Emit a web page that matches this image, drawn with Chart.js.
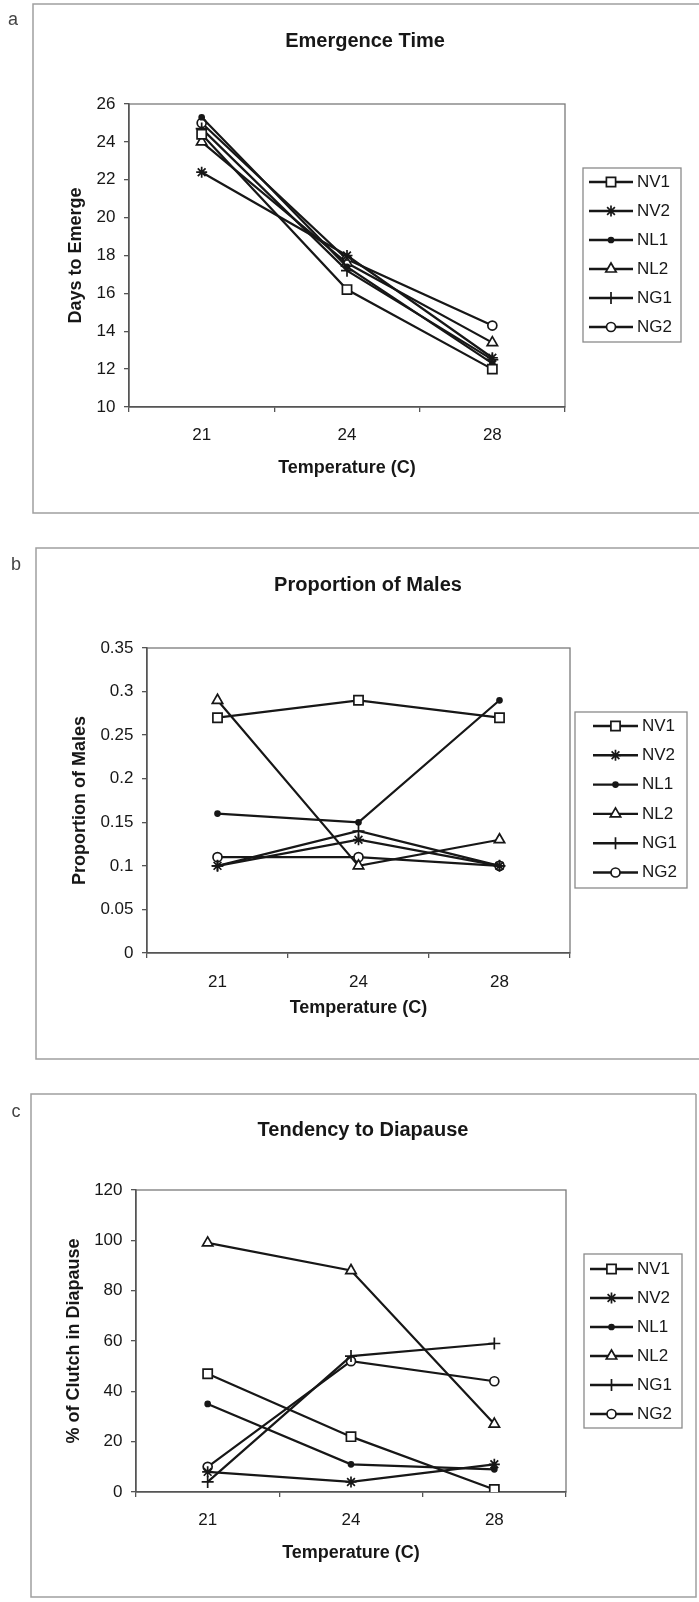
<!DOCTYPE html>
<html lang="en">
<head>
<meta charset="UTF-8">
<title>Emergence, sex ratio and diapause by temperature</title>
<script src="https://cdn.jsdelivr.net/npm/chart.js"></script>
<style>
  body { margin: 0; background: #fff; }
  #page { position: relative; width: 699px; height: 1602px; overflow: hidden; }
  canvas { position: absolute; left: 0; }
</style>
</head>
<body>
<div id="page">
  <canvas id="chartA" width="699" height="520" style="top:0px"></canvas>
  <canvas id="chartB" width="699" height="540" style="top:530px"></canvas>
  <canvas id="chartC" width="699" height="532" style="top:1070px"></canvas>
</div>
<script>
// categories and series names
const temps = ['21', '24', '28'];
const strains = ['NV1', 'NV2', 'NL1', 'NL2', 'NG1', 'NG2'];

// a: days to emerge
const emergeNV1 = [24.4, 16.2, 12.0];
const emergeNV2 = [22.4, 18.0, 12.6];
const emergeNL1 = [25.3, 17.4, 12.3];
const emergeNL2 = [24.0, 17.6, 13.4];
const emergeNG1 = [24.7, 17.2, 12.5];
const emergeNG2 = [25.0, 17.8, 14.3];

// b: proportion of males
const malesNV1 = [0.27, 0.29, 0.27];
const malesNV2 = [0.10, 0.13, 0.10];
const malesNL1 = [0.16, 0.15, 0.29];
const malesNL2 = [0.29, 0.10, 0.13];
const malesNG1 = [0.10, 0.14, 0.10];
const malesNG2 = [0.11, 0.11, 0.10];

// c: % of clutch in diapause
const diapNV1 = [47, 22, 1];
const diapNV2 = [8, 4, 11];
const diapNL1 = [35, 11, 9];
const diapNL2 = [99, 88, 27];
const diapNG1 = [4, 54, 59];
const diapNG2 = [10, 52, 44];

const FONT = "'Liberation Sans', Arial, sans-serif";
const INK = '#171717';
const XH = 80; // fixed height of the x axis box

const markers = [
  { pointStyle: 'rect', radius: 6.5, fill: '#fff' },
  { pointStyle: 'star', radius: 5.5, fill: INK },
  { pointStyle: 'circle', radius: 2.5, fill: INK },
  { pointStyle: 'triangle', radius: 6, fill: '#fff' },
  { pointStyle: 'cross', radius: 6, fill: INK },
  { pointStyle: 'circle', radius: 4.5, fill: '#fff' }
];

function drawMarker(ctx, m, x, y) {
  ctx.save();
  ctx.fillStyle = m.fill;
  ctx.strokeStyle = INK;
  ctx.lineWidth = 1.7;
  if (Chart.helpers && Chart.helpers.drawPoint) {
    Chart.helpers.drawPoint(ctx, { pointStyle: m.pointStyle, radius: m.radius, rotation: 0, borderWidth: 1.7 }, x, y);
  } else {
    const r = m.radius;
    ctx.beginPath();
    if (m.pointStyle === 'rect') {
      const s = r * Math.SQRT1_2;
      ctx.rect(x - s, y - s, 2 * s, 2 * s); ctx.fill();
    } else if (m.pointStyle === 'circle') {
      ctx.arc(x, y, r, 0, Math.PI * 2); ctx.fill();
    } else if (m.pointStyle === 'triangle') {
      for (let k = 0; k < 3; k++) {
        const a = k * 2 * Math.PI / 3;
        ctx[k ? 'lineTo' : 'moveTo'](x + Math.sin(a) * r, y - Math.cos(a) * r);
      }
      ctx.closePath(); ctx.fill();
    } else {
      ctx.moveTo(x - r, y); ctx.lineTo(x + r, y);
      ctx.moveTo(x, y - r); ctx.lineTo(x, y + r);
      if (m.pointStyle === 'star') {
        const d = r * Math.SQRT1_2;
        ctx.moveTo(x - d, y - d); ctx.lineTo(x + d, y + d);
        ctx.moveTo(x - d, y + d); ctx.lineTo(x + d, y - d);
      }
    }
    ctx.stroke();
  }
  ctx.restore();
}

function series(values) {
  return strains.map((name, i) => ({
    label: name,
    data: values[i],
    borderColor: INK,
    borderWidth: 2.2,
    tension: 0,
    fill: false,
    pointStyle: markers[i].pointStyle,
    pointRadius: markers[i].radius,
    pointHoverRadius: markers[i].radius,
    pointBackgroundColor: markers[i].fill,
    pointBorderColor: INK,
    pointBorderWidth: 1.7
  }));
}

function panelPlugin(p) {
  return {
    id: 'panel' + p.letter,
    beforeDraw(chart) {
      const ctx = chart.ctx, a = chart.chartArea, oy = p.top, f = p.frame;
      ctx.save();
      // outer frame of the figure panel
      ctx.strokeStyle = '#a0a0a0';
      ctx.lineWidth = 1.5;
      ctx.beginPath();
      ctx.moveTo(f.r, f.t - oy);
      ctx.lineTo(f.l, f.t - oy);
      ctx.lineTo(f.l, f.b - oy);
      ctx.lineTo(f.r, f.b - oy);
      if (f.closed) ctx.lineTo(f.r, f.t - oy);
      ctx.stroke();
      // plot area box
      ctx.strokeStyle = '#7a7a7a';
      ctx.lineWidth = 1.3;
      ctx.strokeRect(a.left, a.top, a.right - a.left, a.bottom - a.top);
      // panel letter and title
      ctx.fillStyle = '#444';
      ctx.font = '18px ' + FONT;
      ctx.textAlign = 'center';
      ctx.textBaseline = 'middle';
      ctx.fillText(p.letter, p.letterPos[0], p.letterPos[1] - oy);
      ctx.fillStyle = INK;
      ctx.font = 'bold 20px ' + FONT;
      ctx.fillText(p.title, p.titlePos[0], p.titlePos[1] - oy);
      ctx.restore();
    },
    afterDraw(chart) {
      const ctx = chart.ctx, L = p.legend, oy = p.top;
      ctx.save();
      ctx.fillStyle = '#fff';
      ctx.fillRect(L.x0, L.y0 - oy, L.x1 - L.x0, L.y1 - L.y0);
      ctx.strokeStyle = '#8a8a8a';
      ctx.lineWidth = 1.3;
      ctx.strokeRect(L.x0, L.y0 - oy, L.x1 - L.x0, L.y1 - L.y0);
      chart.data.datasets.forEach((ds, i) => {
        const y = L.row0 + i * L.step - oy;
        ctx.strokeStyle = INK;
        ctx.lineWidth = 2.4;
        ctx.beginPath();
        ctx.moveTo(L.lx0, y);
        ctx.lineTo(L.lx1, y);
        ctx.stroke();
        drawMarker(ctx, markers[i], (L.lx0 + L.lx1) / 2, y);
        ctx.fillStyle = INK;
        ctx.font = '17px ' + FONT;
        ctx.textAlign = 'left';
        ctx.textBaseline = 'middle';
        ctx.fillText(ds.label, L.tx, y);
      });
      ctx.restore();
    }
  };
}

function makePanel(p) {
  const canvas = document.getElementById(p.canvas);
  const H = canvas.height;
  const plot = { l: p.plot.l, r: p.plot.r, t: p.plot.t - p.top, b: p.plot.b - p.top };
  const padLeft = p.yTitleX - 10.8 - 2;
  const yw = plot.l - padLeft;
  new Chart(canvas, {
    type: 'line',
    data: { labels: temps, datasets: series(p.values) },
    options: {
      responsive: false,
      animation: false,
      layout: { padding: { left: padLeft, right: 699 - plot.r, top: plot.t, bottom: H - plot.b - XH } },
      plugins: { legend: { display: false }, tooltip: { enabled: false }, title: { display: false } },
      scales: {
        x: {
          type: 'category',
          offset: true,
          grid: { offset: true, drawOnChartArea: false, drawTicks: true, tickLength: 5, color: '#555', lineWidth: 1.3 },
          border: { display: true, color: '#555', width: 1.5 },
          ticks: { color: INK, font: { family: FONT, size: 17 }, padding: p.xLabelGap - 10.2 - 5, maxRotation: 0 },
          title: {
            display: true, text: 'Temperature (C)', color: INK,
            font: { family: FONT, size: 18, weight: 'bold' },
            padding: { top: 0, bottom: XH - p.xTitleGap - 10.8 }
          },
          afterFit: s => { s.height = XH; }
        },
        y: {
          min: p.yMin,
          max: p.yMax,
          grid: { drawOnChartArea: false, drawTicks: true, tickLength: 5, color: '#555', lineWidth: 1.3 },
          border: { display: true, color: '#555', width: 1.5 },
          ticks: {
            stepSize: p.yStep, color: INK, font: { family: FONT, size: 17 }, padding: 13.5 - 5,
            callback: v => String(+v.toFixed(2))
          },
          title: {
            display: true, text: p.yTitle, color: INK,
            font: { family: FONT, size: 18, weight: 'bold' },
            padding: { top: 2, bottom: 0 }
          },
          afterFit: s => { s.width = yw; }
        }
      }
    },
    plugins: [panelPlugin(p)]
  });
}

makePanel({
  canvas: 'chartA', top: 0, letter: 'a', letterPos: [13, 20],
  title: 'Emergence Time', titlePos: [365, 41],
  frame: { l: 33, t: 4, r: 702, b: 513 },
  plot: { l: 129, r: 565, t: 104, b: 407 },
  xLabelGap: 28, xTitleGap: 61, yTitleX: 76,
  yMin: 10, yMax: 26, yStep: 2, yTitle: 'Days to Emerge',
  values: [emergeNV1, emergeNV2, emergeNL1, emergeNL2, emergeNG1, emergeNG2],
  legend: { x0: 583, x1: 681, y0: 168, y1: 342, lx0: 589, lx1: 633, tx: 637, row0: 182, step: 29 }
});

makePanel({
  canvas: 'chartB', top: 530, letter: 'b', letterPos: [16, 565],
  title: 'Proportion of Males', titlePos: [368, 585],
  frame: { l: 36, t: 548, r: 702, b: 1059 },
  plot: { l: 147, r: 570, t: 648, b: 953 },
  xLabelGap: 29, xTitleGap: 55, yTitleX: 80,
  yMin: 0, yMax: 0.35, yStep: 0.05, yTitle: 'Proportion of Males',
  values: [malesNV1, malesNV2, malesNL1, malesNL2, malesNG1, malesNG2],
  legend: { x0: 575, x1: 687, y0: 712, y1: 888, lx0: 593, lx1: 638, tx: 642, row0: 726, step: 29.3 }
});

makePanel({
  canvas: 'chartC', top: 1070, letter: 'c', letterPos: [16, 1112],
  title: 'Tendency to Diapause', titlePos: [363, 1130],
  frame: { l: 31, t: 1094, r: 696, b: 1597, closed: true },
  plot: { l: 136, r: 566, t: 1190, b: 1492 },
  xLabelGap: 28, xTitleGap: 61, yTitleX: 74,
  yMin: 0, yMax: 120, yStep: 20, yTitle: '% of Clutch in Diapause',
  values: [diapNV1, diapNV2, diapNL1, diapNL2, diapNG1, diapNG2],
  legend: { x0: 584, x1: 682, y0: 1254, y1: 1428, lx0: 590, lx1: 633, tx: 637, row0: 1269, step: 29 }
});
</script>
</body>
</html>
